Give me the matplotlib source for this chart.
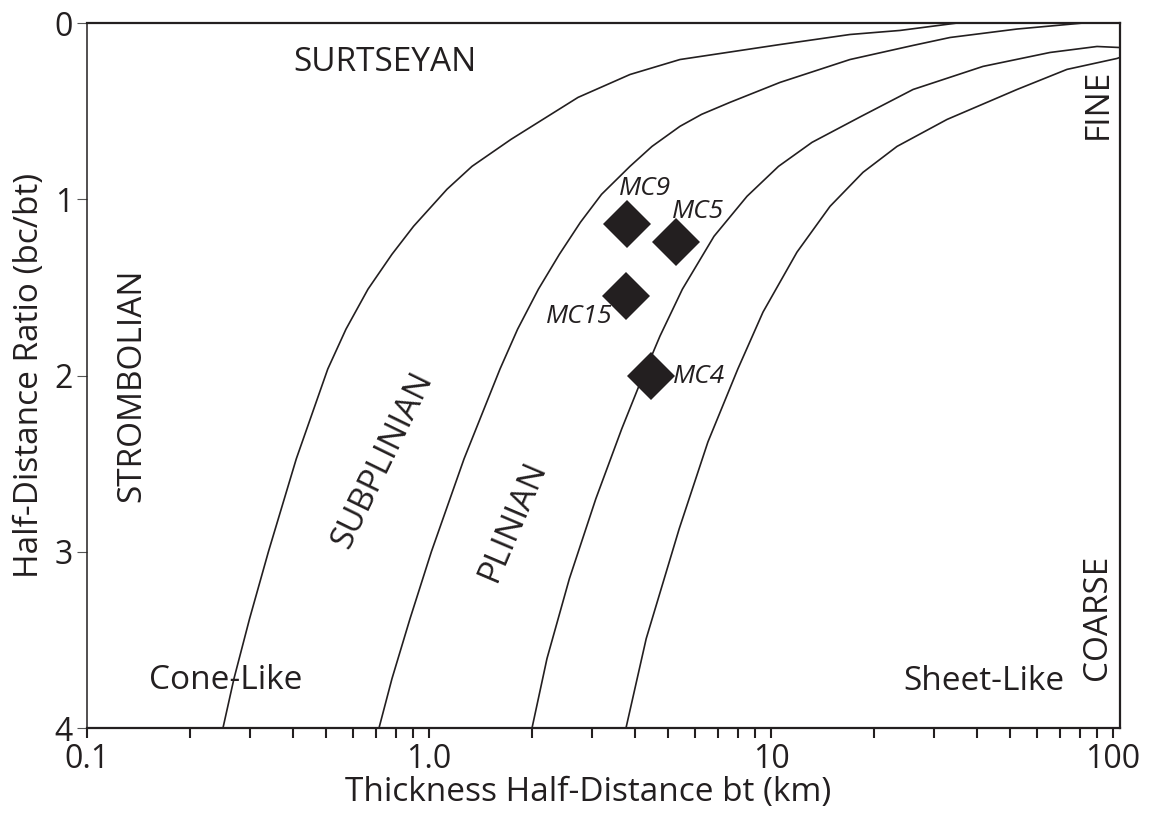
import numpy as np
import matplotlib
matplotlib.use("Agg")
import matplotlib.pyplot as plt
from matplotlib.ticker import FixedLocator, LogLocator, NullFormatter

plt.rcParams['font.family'] = ['Open Sans', 'DejaVu Sans']
ink = '#231f20'

# field boundaries (bt in km, bc/bt ratio)
b1_x = [0.2498, 0.2690, 0.2988, 0.3392, 0.4092, 0.5059, 0.5718, 0.6632, 0.7794,
        0.9015, 1.129, 1.336, 1.737, 2.727, 3.870, 5.418, 10.62, 17.02, 23.84, 34.99]
b1_y = [4.0, 3.720, 3.380, 3.0, 2.473, 1.963, 1.737, 1.510, 1.312,
        1.153, 0.943, 0.813, 0.660, 0.422, 0.292, 0.207, 0.122, 0.065, 0.042, 0.0]

b2_x = [0.7142, 0.7794, 0.8800, 1.016, 1.266, 1.613, 1.816, 2.089, 2.406, 2.773,
        3.195, 3.870, 4.488, 5.418, 6.268, 7.588, 10.62, 17.02, 26.02, 33.38,
        52.40, 81.71]
b2_y = [4.0, 3.720, 3.380, 3.0, 2.473, 1.963, 1.737, 1.510, 1.312, 1.130,
        0.972, 0.813, 0.700, 0.586, 0.518, 0.450, 0.337, 0.207, 0.127, 0.082,
        0.034, 0.0]

b3_x = [2.001, 2.213, 2.573, 3.074, 3.660, 4.154, 4.736, 5.507, 6.813, 8.509,
        10.52, 13.18, 18.33, 26.02, 41.68, 65.43, 89.80, 104.8]
b3_y = [4.0, 3.606, 3.153, 2.700, 2.303, 2.037, 1.776, 1.510, 1.210, 0.983,
        0.813, 0.677, 0.530, 0.377, 0.246, 0.167, 0.133, 0.139]

b4_x = [3.767, 4.316, 5.389, 6.539, 7.998, 9.476, 11.91, 14.88, 18.58,
        23.36, 32.71, 52.40, 73.36, 102.7, 104.8]
b4_y = [4.0, 3.493, 2.870, 2.377, 1.963, 1.640, 1.300, 1.040, 0.847,
        0.700, 0.547, 0.377, 0.263, 0.201, 0.195]

# samples
samples = ['MC9', 'MC5', 'MC15', 'MC4']
bt = [3.793, 5.275, 3.767, 4.458]
ratio = [1.142, 1.244, 1.550, 2.0]
lab_x = [4.281, 6.116, 2.755, 6.158]
lab_y = [0.941, 1.068, 1.663, 2.003]

fig = plt.figure(figsize=(11.52, 8.17), dpi=100)
ax = fig.add_axes([0.0755, 0.1089, 0.8967, 0.8629])

for bx, by in [(b1_x, b1_y), (b2_x, b2_y), (b3_x, b3_y), (b4_x, b4_y)]:
    ax.plot(bx, by, color=ink, lw=1.2, solid_capstyle='butt', solid_joinstyle='round')

ax.plot(bt, ratio, linestyle='none', marker='D', markersize=24,
        color=ink, markeredgewidth=0)
for s, tx, ty in zip(samples, lab_x, lab_y):
    ax.text(tx, ty, s, fontsize=19, style='italic', color=ink,
            ha='center', va='center')

# field names
ax.text(0.7436, 0.224, 'SURTSEYAN', fontsize=24, color=ink, ha='center', va='center')
ax.text(0.1354, 2.054, 'STROMBOLIAN', fontsize=24, color=ink, ha='center', va='center', rotation=90)
ax.text(0.7335, 2.479, 'SUBPLINIAN', fontsize=24, color=ink, ha='center', va='center', rotation=64)
ax.text(1.761, 2.824, 'PLINIAN', fontsize=24, color=ink, ha='center', va='center', rotation=67)
ax.text(0.2549, 3.731, 'Cone-Like', fontsize=24, color=ink, ha='center', va='center')
ax.text(41.96, 3.737, 'Sheet-Like', fontsize=24, color=ink, ha='center', va='center')
ax.text(90.4, 0.456, 'FINE', fontsize=24, color=ink, ha='center', va='center', rotation=90)
ax.text(89.8, 3.37, 'COARSE', fontsize=24, color=ink, ha='center', va='center', rotation=90)

ax.set_xscale('log')
ax.set_xlim(0.1, 104.8)
ax.set_ylim(4, 0)

ax.xaxis.set_major_locator(FixedLocator([0.1, 1, 10, 100]))
ax.set_xticklabels(['0.1', '1.0', '10', '100'])
ax.xaxis.set_minor_locator(LogLocator(base=10, subs=np.arange(2, 10)))
ax.xaxis.set_minor_formatter(NullFormatter())
ax.set_yticks([0, 1, 2, 3, 4])

ax.tick_params(axis='x', which='both', direction='out', length=7, width=1.5,
               color=ink, labelsize=23, labelcolor=ink, pad=4)
ax.tick_params(axis='y', direction='out', length=7, width=0.8,
               color='#555555', labelsize=23, labelcolor=ink, pad=3)

for side in ['top', 'bottom', 'right']:
    ax.spines[side].set_linewidth(1.6)
    ax.spines[side].set_color(ink)
ax.spines['left'].set_linewidth(1.1)
ax.spines['left'].set_color(ink)

ax.set_xlabel('Thickness Half-Distance bt (km)', fontsize=24, color=ink, labelpad=2)
ax.xaxis.set_label_coords(0.485, -0.068)
ax.set_ylabel('Half-Distance Ratio (bc/bt)', fontsize=24, color=ink, labelpad=6)

fig.savefig('out.png', dpi=100)
